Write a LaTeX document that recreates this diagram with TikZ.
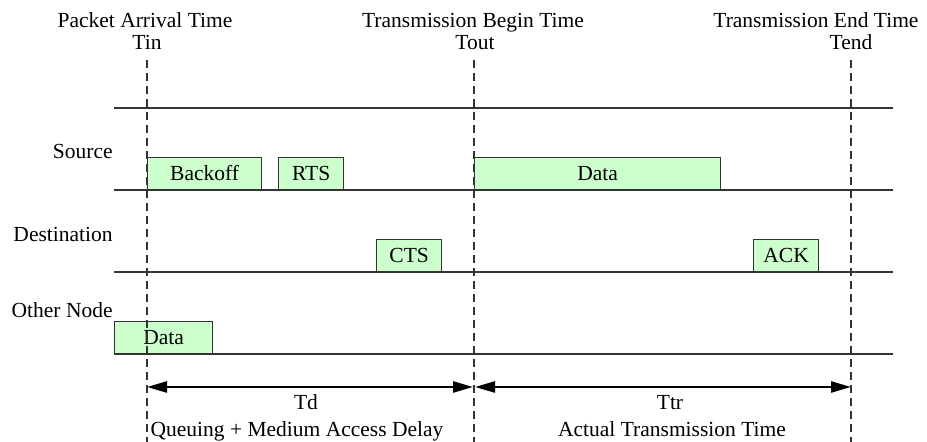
\documentclass[tikz,border=0pt]{standalone}
\usepackage{fontspec}
\setmainfont{Liberation Serif}
\usetikzlibrary{arrows.meta}
\definecolor{pktgreen}{HTML}{CCFFCC}
\definecolor{rule}{HTML}{333333}
\tikzset{
  lbl/.style={font=\fontsize{10.75}{12}\selectfont, inner sep=0pt},
  pkt/.style={draw=rule, line width=0.65pt, fill=pktgreen, inner sep=0pt,
              minimum height=16pt, anchor=south west,
              font=\fontsize{10.75}{12}\selectfont},
  timeline/.style={draw=rule, line width=0.75pt},
  marker/.style={draw=rule, line width=0.6pt, dash pattern=on 4pt off 2.5pt},
  span/.style={draw=black, line width=1.25pt,
               {Triangle[length=10pt,width=5.5pt]}-{Triangle[length=10pt,width=5.5pt]}}
}
\begin{document}
\begin{tikzpicture}[x=0.5pt, y=-0.5pt]
  \useasboundingbox (0,0) rectangle (927,442);

  % time markers and their headings
  \node[lbl, anchor=base] (hin) at (145,28) {Packet Arrival Time};
  \node[lbl, anchor=base] (tin) at (147,50) {Tin};
  \node[lbl, anchor=base] (hout) at (473,28) {Transmission Begin Time};
  \node[lbl, anchor=base] (tout) at (475,50) {Tout};
  \node[lbl, anchor=base west] (hend) at (713,28) {Transmission End Time};
  \node[lbl, anchor=base] (tend) at (851,50) {Tend};

  \coordinate (tinTop) at (147,60);   \coordinate (tinBot) at (147,442);
  \coordinate (toutTop) at (474,60);  \coordinate (toutBot) at (474,442);
  \coordinate (tendTop) at (851,60);  \coordinate (tendBot) at (851,442);

  % station time lines
  \coordinate (l0a) at (114,108); \coordinate (l0b) at (893,108);
  \coordinate (l1a) at (114,190); \coordinate (l1b) at (893,190);
  \coordinate (l2a) at (114,272); \coordinate (l2b) at (893,272);
  \coordinate (l3a) at (114,354); \coordinate (l3b) at (893,354);
  \draw[timeline] (l0a) -- (l0b);
  \draw[timeline] (l1a) -- (l1b);
  \draw[timeline] (l2a) -- (l2b);
  \draw[timeline] (l3a) -- (l3b);

  % station names
  \node[lbl, anchor=base east] (src) at (113,159) {Source};
  \node[lbl, anchor=base east] (dst) at (113,242) {Destination};
  \node[lbl, anchor=base east] (oth) at (113,318) {Other Node};

  % frames on the channel
  \node[pkt, minimum width=57pt]   (backoff) at (147,190) {Backoff};
  \node[pkt, minimum width=32.5pt] (rts)     at (278,190) {RTS};
  \node[pkt, minimum width=123pt]  (data)    at (474,190) {Data};
  \node[pkt, minimum width=32.5pt] (cts)     at (376,272) {CTS};
  \node[pkt, minimum width=32.5pt] (ack)     at (753,272) {ACK};
  \node[pkt, minimum width=49pt]   (odata)   at (114,354) {Data};

  % dashed time markers
  \draw[marker] (tinTop) -- (tinBot);
  \draw[marker] (toutTop) -- (toutBot);
  \draw[marker] (tendTop) -- (tendBot);

  % delay spans
  \coordinate (tdL) at (147,387);  \coordinate (tdR) at (473,387);
  \coordinate (trL) at (475,387);  \coordinate (trR) at (851,387);
  \draw[span] (tdL) -- (tdR);
  \draw[span] (trL) -- (trR);

  \node[lbl, anchor=base] (td) at (306,410) {Td};
  \node[lbl, anchor=base] (tdtxt) at (297,437) {Queuing + Medium Access Delay};
  \node[lbl, anchor=base] (ttr) at (670,410) {Ttr};
  \node[lbl, anchor=base] (ttrtxt) at (672,437) {Actual Transmission Time};
\end{tikzpicture}
\end{document}
